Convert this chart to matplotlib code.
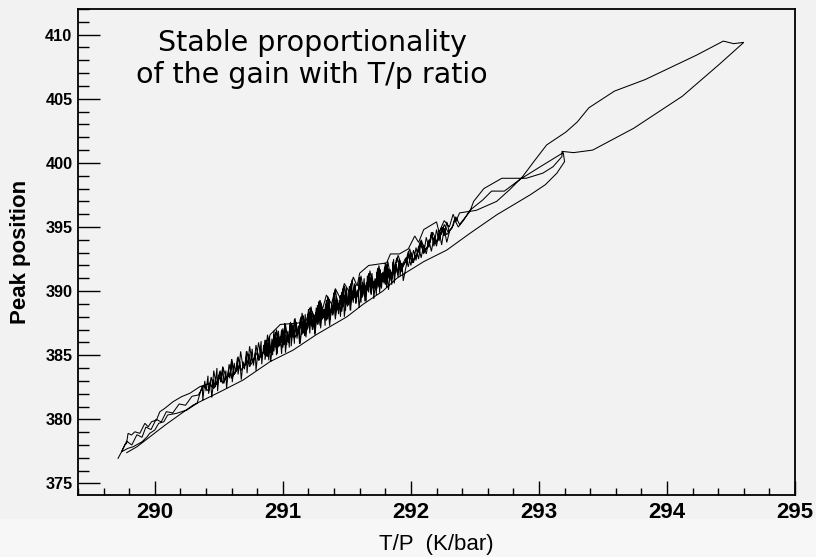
import matplotlib
matplotlib.use("Agg")
import matplotlib.pyplot as plt
from matplotlib.patches import Rectangle
from matplotlib.ticker import MultipleLocator
import numpy as np

# T/P (K/bar) and peak position, recorded as one continuous trace.
# First rise: jagged upper path from the low end, then the dense core.
rise1_tp = [289.713, 289.740, 289.766, 289.779, 289.791, 289.818, 289.844, 289.883,
            289.922, 289.948, 289.974, 290.013, 290.039, 290.078, 290.143, 290.209,
            290.273, 290.352, 290.430,
            290.45, 290.46, 290.48, 290.50, 290.52, 290.53, 290.56, 290.59, 290.60, 290.62,
            290.66, 290.67, 290.69, 290.73, 290.74, 290.76, 290.80, 290.81, 290.83, 290.87,
            290.88, 290.90, 290.94, 290.95, 290.97, 291.01, 291.02, 291.04, 291.08, 291.09,
            291.11, 291.14, 291.15, 291.17, 291.21, 291.22, 291.24, 291.27, 291.28, 291.30,
            291.34, 291.35, 291.37, 291.40, 291.41, 291.43, 291.47, 291.48, 291.50, 291.53,
            291.54, 291.56, 291.60, 291.61, 291.63, 291.67, 291.68, 291.70, 291.74, 291.75,
            291.77, 291.81, 291.82, 291.84, 291.88, 291.90, 291.93, 291.97, 291.99, 292.02,
            292.06, 292.08, 292.11, 292.15, 292.17, 292.20, 292.24, 292.26, 292.29, 292.33,
            292.35, 292.38, 292.42, 292.46]
rise1_peak = [376.96, 377.47, 378.00, 378.13, 378.91, 378.78, 379.03, 378.91,
              379.69, 379.42, 379.81, 379.95, 380.59, 380.86, 381.38, 381.77,
              382.03, 382.55, 382.81,
              382.5, 383.8, 382.7, 383.4, 382.9, 384.1, 383.2, 383.6, 384.7, 383.5,
              384.2, 385.3, 384.0, 384.6, 385.7, 384.5, 385.2, 386.0, 384.9, 385.6,
              386.6, 385.3, 386.1, 387.0, 385.8, 386.4, 387.4, 386.2, 386.8, 387.8,
              386.7, 387.3, 388.3, 387.0, 387.7, 388.8, 387.5, 388.1, 389.2, 387.9,
              388.6, 389.6, 388.3, 389.0, 390.1, 388.8, 389.4, 390.4, 389.1, 389.9,
              390.9, 389.6, 390.2, 391.2, 390.0, 390.7, 391.6, 390.4, 391.1, 392.0,
              390.8, 391.5, 392.3, 391.2, 392.0, 392.8, 391.9, 392.5, 393.3, 392.4,
              393.1, 394.0, 393.2, 393.8, 394.6, 393.9, 394.5, 395.2, 394.6, 395.1,
              395.8, 395.2, 395.7, 396.2]

# Excursion to the high end and back along the upper side.
excursion_tp = [292.49, 292.57, 292.71, 292.90, 293.03, 293.11, 293.18, 293.18, 293.27,
                293.42, 293.74, 294.12, 294.41, 294.60, 294.52, 294.44, 294.23, 293.83,
                293.59, 293.39, 293.30, 293.21, 293.06, 292.96, 292.87, 292.77, 292.67,
                292.51, 292.38]
excursion_peak = [397.0, 398.0, 398.8, 398.8, 399.2, 399.7, 400.5, 400.9, 400.8,
                  401.0, 402.7, 405.2, 407.7, 409.4, 409.3, 409.5, 408.4, 406.5,
                  405.6, 404.3, 403.2, 402.4, 401.4, 400.1, 398.9, 397.9, 397.0,
                  396.3, 396.1]

# Descent along the upper side of the band.
fall1_tp = [292.35, 292.33, 292.30, 292.26, 292.22, 292.20, 292.10, 292.06, 292.03,
            291.98, 291.91, 291.84, 291.81, 291.67, 291.60, 291.58, 291.55, 291.52,
            291.48, 291.45, 291.41, 291.38, 291.34, 291.31, 291.29, 291.25, 291.21,
            291.18, 291.11, 290.98, 290.90]
fall1_peak = [395.4, 396.0, 395.0, 395.5, 394.6, 395.4, 394.8, 393.8, 394.3,
              393.3, 392.9, 392.9, 392.2, 392.0, 391.4, 390.4, 391.1, 389.9,
              390.6, 389.4, 390.2, 389.0, 389.7, 388.6, 389.3, 388.0, 388.7,
              387.6, 387.5, 387.4, 386.6]

# Fast fluctuations through the core, forward.
core_fwd_tp = [290.86, 290.865, 290.875, 290.88, 290.89, 290.895, 290.905, 290.915, 290.92,
               290.93, 290.94, 290.945, 290.955, 290.965, 290.975, 290.98, 290.99, 291.00,
               291.01, 291.015, 291.03, 291.04, 291.05, 291.055, 291.07, 291.08, 291.09,
               291.095, 291.11, 291.12, 291.13, 291.135, 291.15, 291.16, 291.17, 291.18,
               291.19, 291.20, 291.21, 291.22, 291.235, 291.24, 291.25, 291.26, 291.27,
               291.28, 291.29, 291.295, 291.31, 291.32, 291.33, 291.335, 291.35, 291.36,
               291.37, 291.38, 291.39, 291.40, 291.41, 291.42, 291.435, 291.44, 291.45,
               291.46, 291.47, 291.48, 291.49, 291.495, 291.51, 291.52, 291.53, 291.535,
               291.55, 291.56, 291.57, 291.58, 291.59, 291.60, 291.61, 291.62, 291.635,
               291.64, 291.65, 291.66, 291.67, 291.68, 291.69, 291.695, 291.71, 291.72,
               291.73, 291.735, 291.75, 291.76, 291.77, 291.78, 291.79, 291.80, 291.81,
               291.82, 291.835, 291.84, 291.85, 291.86, 291.87, 291.88, 291.90, 291.91,
               291.93, 291.94, 291.96, 291.98, 292.00, 292.02, 292.04, 292.06, 292.08,
               292.10, 292.12, 292.14, 292.16, 292.18, 292.20, 292.22, 292.24, 292.26,
               292.28, 292.30]
core_fwd_peak = [384.65, 386.15, 384.9, 385.9, 384.6, 386.5, 385.2, 386.3, 385.0,
                 386.9, 385.7, 386.4, 385.1, 386.9, 385.8, 386.5, 385.1, 386.9,
                 385.8, 387.5, 385.8, 386.9, 385.6, 387.4, 386.4, 387.3, 385.9,
                 387.9, 386.5, 387.3, 385.9, 387.8, 386.6, 388.1, 386.5, 387.6,
                 387.0, 388.6, 386.7, 388.2, 387.0, 388.2, 386.7, 388.7, 387.4,
                 388.5, 387.3, 389.1, 387.8, 388.6, 387.3, 389.0, 387.8, 389.4,
                 387.8, 389.0, 388.2, 389.9, 387.9, 389.5, 388.2, 389.3, 388.0,
                 389.9, 388.8, 389.7, 388.5, 390.3, 388.9, 389.9, 388.5, 390.4,
                 389.1, 390.6, 389.0, 390.1, 389.5, 391.1, 389.1, 390.7, 389.6,
                 390.6, 389.2, 391.2, 389.9, 390.9, 389.7, 391.4, 390.2, 391.0,
                 389.7, 391.5, 390.3, 391.7, 390.2, 391.5, 390.6, 392.2, 390.3,
                 391.8, 390.8, 391.7, 390.5, 392.3, 391.2, 392.1, 391.1, 392.5,
                 391.5, 392.2, 392.6, 391.9, 393.0, 392.2, 393.4, 392.5, 393.9,
                 392.9, 394.2, 393.4, 394.6, 393.5, 394.8, 393.9, 395.0, 394.3,
                 395.4, 394.6]

# Fast fluctuations through the core, backward.
core_back_tp = [292.28, 292.26, 292.24, 292.22, 292.20, 292.18, 292.16, 292.14, 292.12,
                292.10, 292.08, 292.06, 292.04, 292.02, 292.00, 291.98, 291.96,
                291.94, 291.93, 291.915, 291.91, 291.895, 291.885, 291.87, 291.865, 291.85,
                291.84, 291.825, 291.815, 291.80, 291.795, 291.78, 291.77, 291.755, 291.75,
                291.735, 291.725, 291.71, 291.705, 291.69, 291.68, 291.665, 291.655, 291.64,
                291.635, 291.62, 291.61, 291.595, 291.585, 291.57, 291.565, 291.55, 291.54,
                291.525, 291.52, 291.505, 291.495, 291.48, 291.475, 291.46, 291.45, 291.435,
                291.425, 291.41, 291.405, 291.39, 291.38, 291.365, 291.355, 291.34, 291.335,
                291.32, 291.31, 291.295, 291.29, 291.275, 291.265, 291.25, 291.245, 291.23,
                291.22, 291.205, 291.195, 291.18, 291.175, 291.16, 291.15, 291.135, 291.125,
                291.11, 291.105, 291.09, 291.08, 291.065, 291.06, 291.045, 291.035, 291.02,
                291.015, 291.00, 290.99, 290.975, 290.965, 290.95, 290.945, 290.93, 290.92,
                290.905, 290.895, 290.88, 290.875, 290.86, 290.85, 290.835, 290.83, 290.815,
                290.805, 290.79, 290.785, 290.77, 290.76, 290.745, 290.735, 290.72, 290.715,
                290.70, 290.69, 290.675, 290.665, 290.65, 290.645, 290.63, 290.62, 290.605,
                290.60, 290.585, 290.575, 290.56, 290.555, 290.54, 290.53, 290.515, 290.505,
                290.49, 290.485, 290.47, 290.46, 290.445, 290.435, 290.42, 290.415, 290.40,
                290.39, 290.375, 290.37]
core_back_peak = [393.8, 394.9, 393.6, 394.7, 393.5, 394.2, 393.1, 394.0, 392.9,
                  393.6, 392.6, 393.5, 392.4, 393.2, 392.0, 392.8, 391.8,
                  390.8, 392.2, 391.2, 392.5, 391.4, 392.1, 390.6, 392.5, 390.9,
                  391.5, 390.1, 391.5, 390.5, 391.9, 390.7, 391.4, 389.9, 391.8,
                  390.2, 390.8, 389.4, 390.8, 389.8, 391.1, 390.0, 390.7, 389.2,
                  391.0, 389.5, 390.1, 388.7, 390.1, 389.1, 390.5, 389.3, 390.0,
                  388.5, 390.4, 388.8, 389.4, 388.0, 389.4, 388.4, 389.7, 388.6,
                  389.3, 387.8, 389.6, 388.1, 388.7, 387.3, 388.7, 387.7, 389.0,
                  387.9, 388.6, 387.1, 389.0, 387.4, 388.0, 386.6, 388.0, 387.0,
                  388.3, 387.1, 387.9, 386.4, 388.2, 386.7, 387.3, 385.9, 387.3,
                  386.3, 387.6, 386.4, 387.2, 385.7, 387.6, 386.0, 386.6, 385.2,
                  386.6, 385.6, 387.0, 385.7, 386.5, 385.0, 386.8, 385.3, 385.9,
                  384.5, 385.9, 384.9, 386.2, 385.0, 385.8, 384.3, 386.1, 384.6,
                  385.2, 383.8, 385.2, 384.2, 385.5, 384.3, 385.1, 383.6, 385.3,
                  383.9, 384.5, 383.1, 384.5, 383.5, 384.8, 383.6, 384.4, 382.9,
                  384.7, 383.2, 383.8, 382.4, 383.8, 382.8, 384.1, 382.9, 383.7,
                  382.2, 384.0, 382.5, 383.1, 381.7, 383.0, 382.0, 383.4, 382.2,
                  383.0, 381.5, 382.6]

# Middle path back down to the low end.
tail_tp = [290.33, 290.25, 290.17, 290.10, 290.07, 290.03, 290.00, 289.96, 289.94,
           289.90, 289.83, 289.79, 289.74]
tail_peak = [381.25, 380.73, 380.47, 380.34, 379.81, 379.69, 379.17, 378.91, 378.64,
             378.25, 377.86, 377.74, 377.47]

# Second rise through the middle of the band.
rise2_tp = [289.78, 289.82, 289.86, 289.90, 289.93, 289.97, 290.01, 290.05, 290.09,
            290.14, 290.19, 290.24, 290.29, 290.34, 290.38,
            290.42, 290.44, 290.46, 290.49, 290.51, 290.53, 290.57, 290.58, 290.60,
            290.64, 290.65, 290.67, 290.71, 290.72, 290.74, 290.78, 290.79, 290.81,
            290.85, 290.86, 290.88, 290.92, 290.93, 290.95, 290.99, 291.00, 291.02,
            291.06, 291.07, 291.09, 291.13, 291.14, 291.16, 291.20, 291.21, 291.23,
            291.26, 291.27, 291.29, 291.33, 291.34, 291.36, 291.39, 291.40, 291.42,
            291.46, 291.47, 291.49, 291.52, 291.53, 291.55, 291.59, 291.60, 291.62,
            291.66, 291.67, 291.69, 291.73, 291.74, 291.76, 291.80, 291.81, 291.83,
            291.87, 291.89, 291.92, 291.96, 291.98, 292.01, 292.05, 292.07, 292.10,
            292.14, 292.16, 292.19, 292.23, 292.25, 292.28, 292.32, 292.34, 292.37,
            292.41, 292.46]
rise2_peak = [378.3, 378.0, 378.8, 378.6, 379.4, 379.2, 380.0, 379.8, 380.6,
              380.5, 381.2, 381.1, 381.8, 381.9, 382.6,
              382.2, 383.3, 382.4, 382.9, 383.8, 382.8, 383.4, 384.3, 383.2,
              383.9, 384.9, 383.8, 384.4, 385.3, 384.1, 384.8, 385.8, 384.6,
              385.3, 386.2, 385.0, 385.7, 386.6, 385.4, 386.2, 387.1, 385.9,
              386.6, 387.5, 386.3, 387.1, 388.0, 386.8, 387.5, 388.4, 387.2,
              387.9, 388.9, 387.7, 388.4, 389.3, 388.1, 388.8, 389.8, 388.5,
              389.3, 390.2, 389.0, 389.7, 390.6, 389.4, 390.1, 391.0, 389.8,
              390.6, 391.4, 390.2, 390.9, 391.8, 390.6, 391.3, 392.1, 391.0,
              391.8, 392.6, 391.6, 392.3, 393.1, 392.2, 392.9, 393.8, 393.0,
              393.6, 394.4, 393.7, 394.3, 395.0, 394.4, 394.9, 395.6, 395.0,
              395.5, 396.3]

# Short loop, then the return along the lower edge of the band.
fall2_tp = [292.56, 292.63, 292.73, 292.85, 293.01, 293.19, 293.20, 293.14, 293.05,
            292.93, 292.67, 292.46, 292.28, 292.10, 291.89, 291.78, 291.63, 291.50,
            291.26, 291.08, 290.90, 290.69, 290.51, 290.30, 290.08, 289.86, 289.78]
fall2_peak = [397.1, 397.8, 397.8, 398.7, 399.7, 400.8, 400.1, 399.2, 398.3,
              397.5, 395.95, 394.5, 393.2, 392.3, 391.0, 390.0, 389.0, 388.0,
              386.6, 385.4, 384.5, 383.07, 382.15, 381.12, 379.55, 377.86, 377.4]

x_ticks = [290, 291, 292, 293, 294, 295]
y_ticks = [375, 380, 385, 390, 395, 400, 405, 410]

tp = np.concatenate([rise1_tp, excursion_tp, fall1_tp, core_fwd_tp, core_back_tp,
                     tail_tp, rise2_tp, fall2_tp])
peak = np.concatenate([rise1_peak, excursion_peak, fall1_peak, core_fwd_peak,
                       core_back_peak, tail_peak, rise2_peak, fall2_peak])

bg = "#f2f2f2"
fig = plt.figure(figsize=(8.16, 5.57), dpi=100, facecolor=bg)
fig.patches.append(Rectangle((0, 0), 1, 0.068, transform=fig.transFigure,
                             facecolor="#f7f7f7", edgecolor="none", zorder=0))

ax = fig.add_axes([0.0956, 0.1113, 0.8787, 0.8725])
ax.set_facecolor(bg)
ax.plot(tp, peak, color="black", lw=0.75, solid_joinstyle="miter")

ax.set_xlim(289.4, 295.0)
ax.set_ylim(374.1, 412.0)
ax.set_xticks(x_ticks)
ax.set_yticks(y_ticks)
ax.xaxis.set_minor_locator(MultipleLocator(0.2))
ax.yaxis.set_minor_locator(MultipleLocator(1))

for s in ax.spines.values():
    s.set_linewidth(1.3)
    s.set_color("black")

ax.tick_params(axis="x", which="major", direction="in", length=10, width=1.0, pad=5)
ax.tick_params(axis="x", which="minor", direction="in", length=5, width=1.0)
ax.tick_params(axis="y", which="major", direction="in", length=16, width=1.0, pad=4)
ax.tick_params(axis="y", which="minor", direction="in", length=8, width=1.0)

for lab in ax.get_xticklabels():
    lab.set_fontfamily("Liberation Sans")
    lab.set_fontweight("bold")
    lab.set_fontsize(16)
for lab in ax.get_yticklabels():
    lab.set_fontfamily("Liberation Sans")
    lab.set_fontweight("bold")
    lab.set_fontsize(11.7)

fig.text(0.025, 0.548, "Peak position", rotation=90, ha="center", va="center",
         fontfamily="Liberation Sans", fontweight="bold", fontsize=16)
fig.text(0.535, 0.003, "T/P  (K/bar)", ha="center", va="bottom",
         fontfamily="Liberation Sans", fontsize=16)

fig.text(0.383, 0.909, "Stable proportionality", ha="center", va="baseline",
         fontfamily="DejaVu Sans", fontsize=20.5)
fig.text(0.382, 0.851, "of the gain with T/p ratio", ha="center", va="baseline",
         fontfamily="DejaVu Sans", fontsize=20.5)

fig.savefig("out.png", dpi=100, facecolor=bg)
